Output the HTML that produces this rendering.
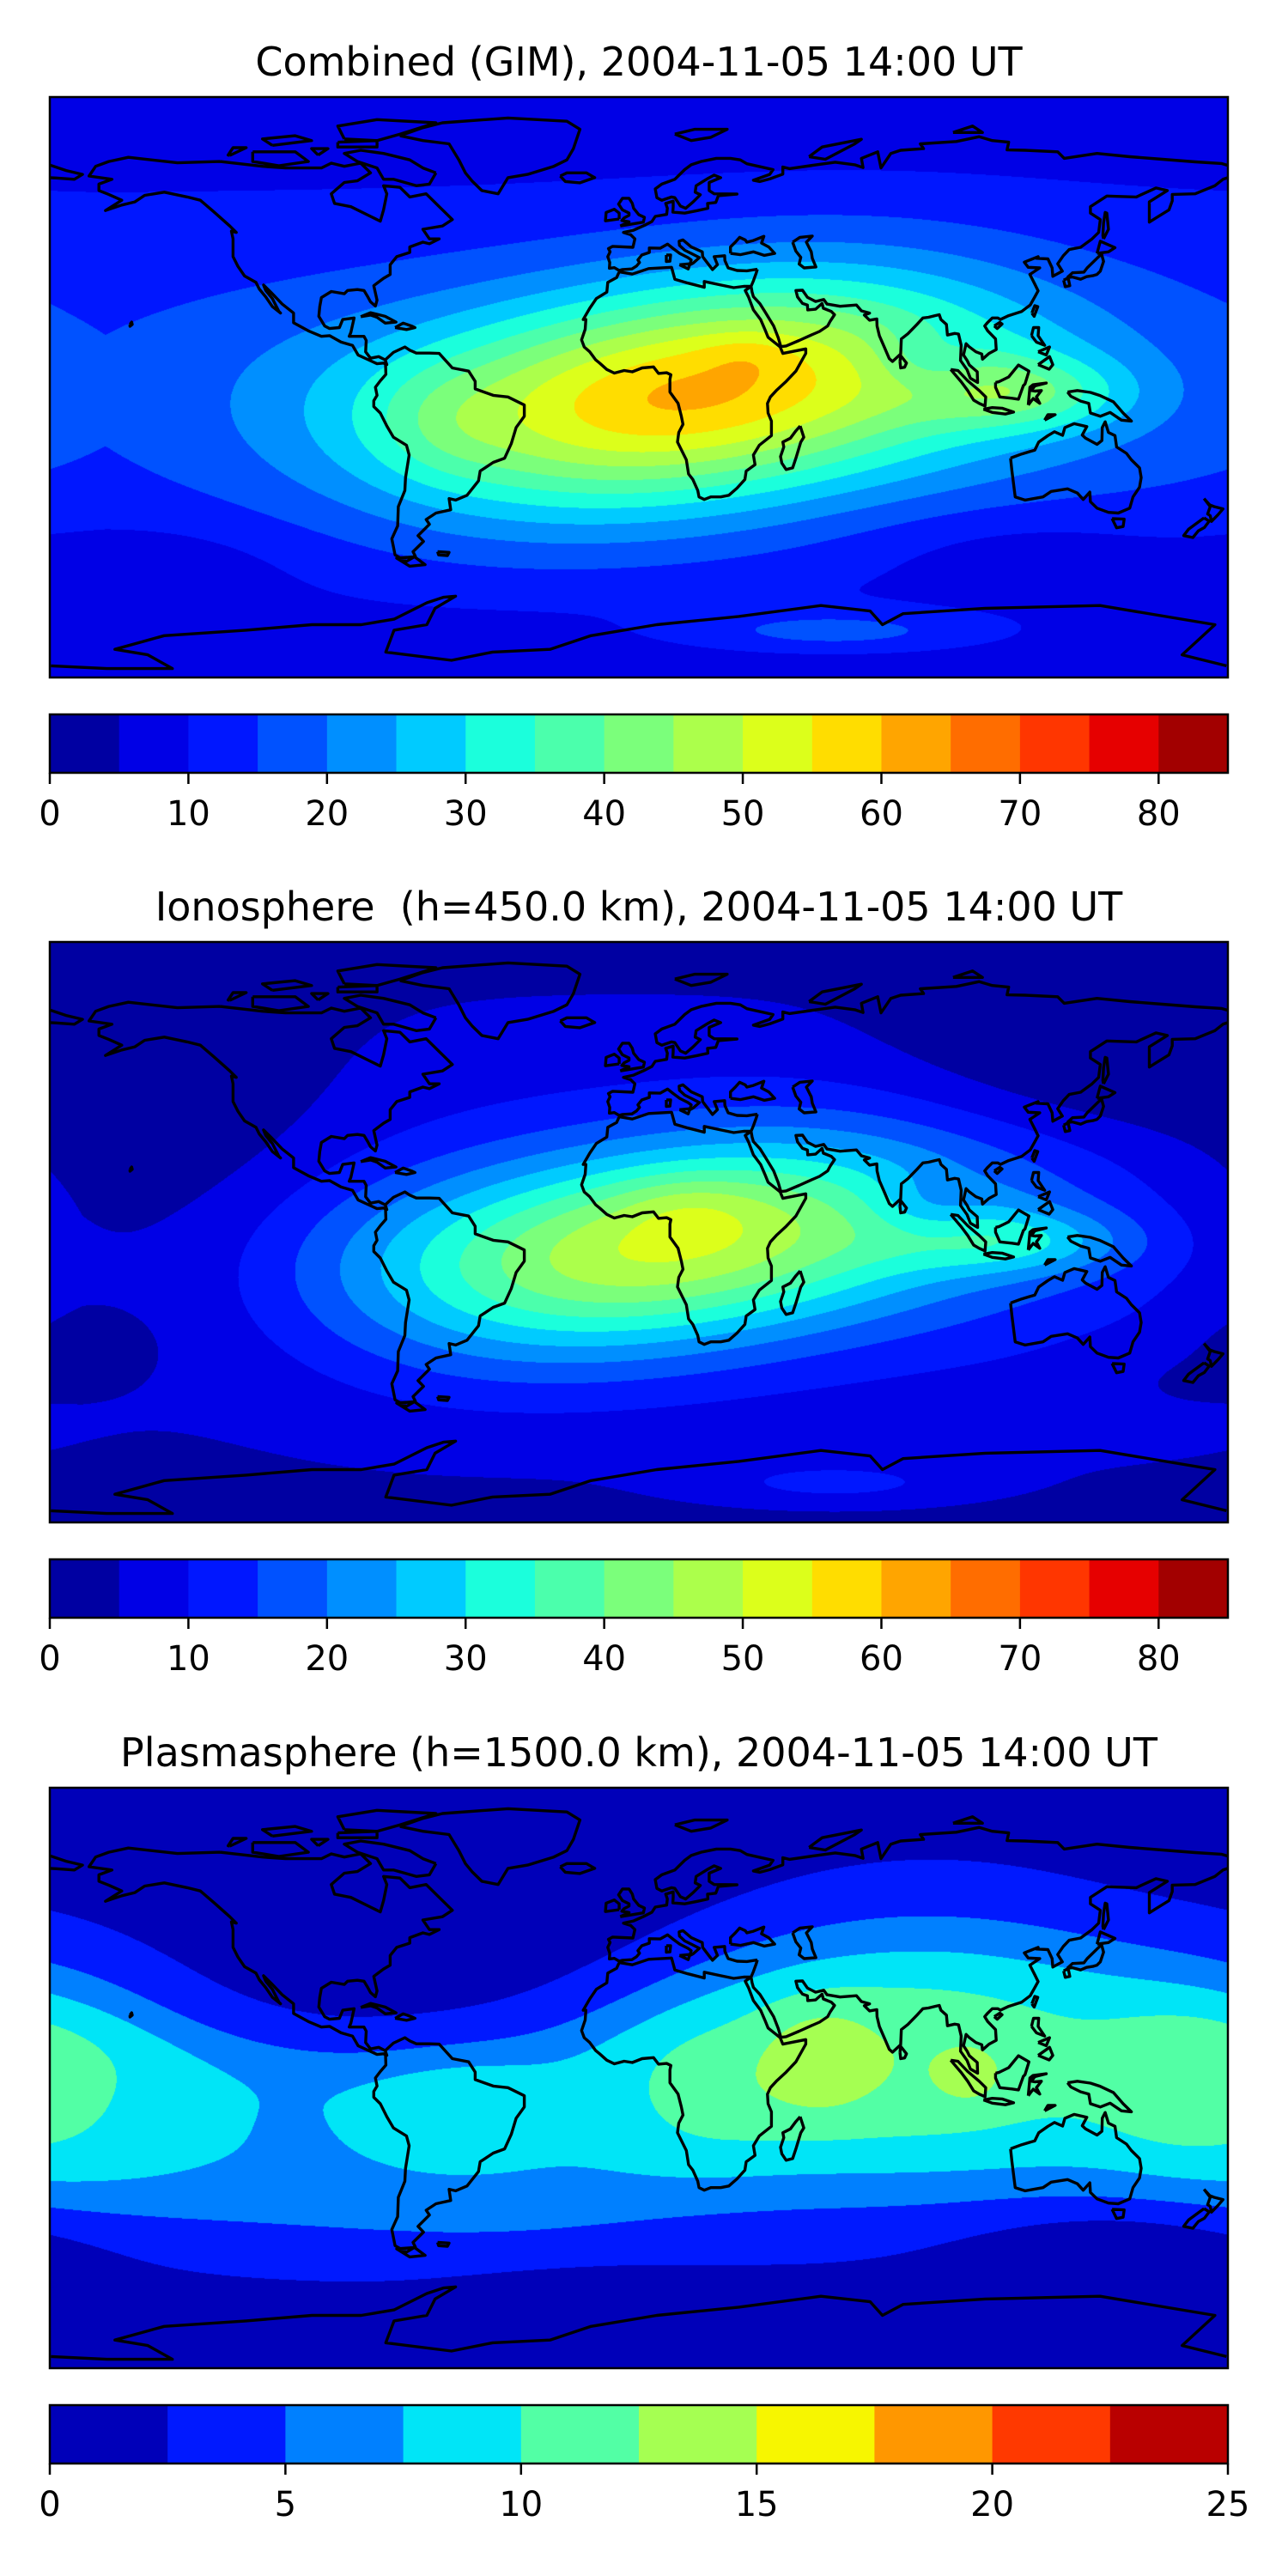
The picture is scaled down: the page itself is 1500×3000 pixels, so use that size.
<!DOCTYPE html>
<html><head><meta charset="utf-8">
<style>
html,body{margin:0;padding:0;background:#fff;}
body{width:1500px;height:3000px;position:relative;overflow:hidden;font-family:"DejaVu Sans","Liberation Sans",sans-serif;}
.title{position:absolute;left:0;width:1488px;text-align:center;font-size:46px;white-space:pre;color:#000;line-height:46px;}
.map{position:absolute;left:58px;width:1372px;height:676px;}
.map canvas,.map svg{position:absolute;left:0;top:0;}
.cbar{position:absolute;left:58px;width:1372px;height:120px;}
</style></head>
<body>
<div class="title" style="top:49px">Combined (GIM), 2004-11-05 14:00 UT</div>
<div class="map" id="m0" style="top:113px"></div>
<div class="cbar" id="c0" style="top:832px"></div>

<div class="title" style="top:1033px">Ionosphere  (h=450.0 km), 2004-11-05 14:00 UT</div>
<div class="map" id="m1" style="top:1097px"></div>
<div class="cbar" id="c1" style="top:1816px"></div>

<div class="title" style="top:2018px">Plasmasphere (h=1500.0 km), 2004-11-05 14:00 UT</div>
<div class="map" id="m2" style="top:2082px"></div>
<div class="cbar" id="c2" style="top:2801px"></div>

<script>
// ---- colorbar data ----
const combinedLevelStep = 5, combinedLevelCount = 17;
const combinedTicks = [0,10,20,30,40,50,60,70,80];
const ionLevelStep = 5, ionLevelCount = 17;
const ionTicks = [0,10,20,30,40,50,60,70,80];
const plasmaLevelStep = 2.5, plasmaLevelCount = 10;
const plasmaTicks = [0,5,10,15,20,25];

// ---- field blobs (lon, lat, amplitude, lon-width, lat-width, tilt) ----
const combinedBlobLon = [17, 33, 118, 88, -150, 115, 60, -60];
const combinedBlobLat = [-2, 10, -2, 8, -55, -50, -76, -12];
const combinedBlobAmp = [47, 3, 14, -6, -4, -4, 9, 4];
const combinedBlobSx  = [70, 10, 22, 12, 30, 35, 35, 15];
const combinedBlobSy  = [24, 5, 8, 7, 10, 10, 5, 12];
const combinedBlobTilt= [0.12, 0, 0, 0, 0, 0, 0, 0];

const ionBlobLon = [10, 15, 115, 88, -140, 140, -170, 160, 60];
const ionBlobLat = [-4, 8, -3, 8, 15, 55, -35, -45, -78];
const ionBlobAmp = [42, 4, 13, -6, -7, -7, -3, -2, 7];
const ionBlobSx  = [68, 15, 25, 12, 40, 45, 15, 20, 30];
const ionBlobSy  = [22, 7, 7, 7, 42, 18, 8, 8, 5];
const ionBlobTilt= [0.12, 0, 0, 0, 0, 0, 0, 0, 0];

const plasmaBlobLon = [-175, -55, 82, 55, 101, 165, 150, -20, 20];
const plasmaBlobLat = [3, -8, 5, 6, 1, -3, -52, -72, -5];
const plasmaBlobAmp = [2.7, 2.2, 4.8, 3, 2.5, 2.0, -2.5, -1.5, 2.3];
const plasmaBlobSx  = [28, 20, 48, 12, 7, 18, 35, 30, 20];
const plasmaBlobSy  = [28, 12, 25, 12, 6, 15, 10, 10, 15];
const plasmaBlobTilt= [0, 0, 0, 0, 0, 0, 0, 0, 0];

const W = 1372, H = 676;
const R = Math.PI/180;

function seg(p,x){for(let i=0;i<p.length-1;i++){if(x<=p[i+1][0]){const t=(x-p[i][0])/(p[i+1][0]-p[i][0]);return p[i][1]+t*(p[i+1][1]-p[i][1]);}}return p[p.length-1][1];}
function jet(x){
  const r=seg([[0,0],[0.35,0],[0.66,1],[0.89,1],[1,0.5]],x);
  const g=seg([[0,0],[0.125,0],[0.375,1],[0.64,1],[0.91,0],[1,0]],x);
  const b=seg([[0,0.5],[0.11,1],[0.34,1],[0.65,0],[1,0]],x);
  return [Math.round(r*255),Math.round(g*255),Math.round(b*255)];
}
function blobSum(lon,lat,L,La,A,Sx,Sy,T){
  let v=0;
  for(let i=0;i<L.length;i++){
    let d=lon-L[i]; d=((d+540)%360)-180;
    const dl=lat-(La[i]+T[i]*Math.sin(d*R)/R);
    v+=A[i]*Math.exp(-0.5*(d/Sx[i])*(d/Sx[i])-0.5*(dl/Sy[i])*(dl/Sy[i]));
  }
  return v;
}
const fields=[
  (lon,lat)=>14-9*(lat/90)*(lat/90)+blobSum(lon,lat,combinedBlobLon,combinedBlobLat,combinedBlobAmp,combinedBlobSx,combinedBlobSy,combinedBlobTilt),
  (lon,lat)=>9-6*(lat/90)*(lat/90)+blobSum(lon,lat,ionBlobLon,ionBlobLat,ionBlobAmp,ionBlobSx,ionBlobSy,ionBlobTilt),
  (lon,lat)=>{const c=-4+9*Math.sin(lon*R)-5*Math.exp(-0.5*Math.pow((lon+30)/40,2));
    const s=lat>c?(35+10*Math.cos((lon-90)*R)):(41+4*Math.cos((lon-90)*R));
    const q=Math.pow((lat-c)/s,4);
    return 1+6.2/(1+q)+blobSum(lon,lat,plasmaBlobLon,plasmaBlobLat,plasmaBlobAmp,plasmaBlobSx,plasmaBlobSy,plasmaBlobTilt);}
];
const steps=[combinedLevelStep,ionLevelStep,plasmaLevelStep];
const counts=[combinedLevelCount,ionLevelCount,plasmaLevelCount];
const ticks=[combinedTicks,ionTicks,plasmaTicks];

// ---- coastlines (lon,lat) ----
const coasts=[
"-128,70 -115,68.5 -108,68 -97,68 -94,69.5 -90,68.5 -85,69.5 -82,66.5 -86,64 -90,63.5 -94,60 -93,57 -88,56 -82,53 -79,51.5 -78,55 -77,60 -78,62.5 -73,62 -70,59 -65,60 -61,56 -57,52 -60,50 -66,49 -64,46 -61,46 -64,44.5 -66,45 -70,43.5 -70,41.8 -74,40.5 -76,38 -76,35 -78,33.8 -81,31.5 -80,27 -80.5,25.2 -82,26.5 -82.8,28 -84,30 -86,30.3 -89,30 -90,29 -94,29.7 -97,27.8 -97.5,25 -97.8,22 -96,19 -94.5,18.2 -91.5,18.5 -90.5,21 -87,21.5 -88,17 -88.5,15.8 -84,15.8 -83.3,14.5 -83.5,11 -82,9 -79.5,9.5 -77.5,8.5 -77,7 -78,7.5 -80,7.3 -81.5,8 -85.8,10 -87.5,13 -91,14 -94.5,16 -97,15.8 -101,17.5 -105.5,20 -105.5,23 -109,25.8 -112.5,29.5 -114.7,31.7 -114,30 -112,27.5 -110,23.5 -109.5,23 -112,25 -114,28 -116,30.5 -117,32.5 -120.5,34.5 -122.5,37.5 -124,40.5 -124,46 -124.5,48.4 -123,48 -125,50 -130,54.5 -134,58 -138,59 -145,60.5 -151,59.5 -154,57.5 -158,56.5 -163,54.8 -158,58 -162,59.8 -165,61 -165,63 -161,64.5 -168,65.5 -166,68.5 -162,70 -156,71.3 -141,69.6 -128,70",
"-62,66.5 -64,63 -68,62.5 -75,64.5 -78,64.5 -80,68 -86,70 -90,72.5 -85,73.5 -78,72.5 -70,70.5 -66,68 -62,66.5",
"-118,73 -105,73 -101,70 -110,68.7 -118,70 -118,73",
"-90,77 -80,76.5 -73,78.5 -62,82 -80,83 -92,81 -90,77",
"-125,71.9 -120,74.3 -124,74.3 -125.5,72 -125,71.9",
"-92,76 -80,76.5 -80,74.5 -92,74.5 -92,76",
"-112,75 -100,76.5 -105,78 -115,77 -112,75",
"-98,72 -95,74 -100,74 -98,72",
"-73,78 -66,80.5 -60,82 -40,83.5 -22,82.5 -18,80 -19,77 -20,74 -22,70.5 -26,68.5 -34,66 -40,65 -43,60 -48,61 -51,64 -53,66.5 -55,70.5 -58,75.5 -66,76.5 -73,78",
"-24,65.5 -22,66.5 -16,66.5 -13.5,65 -18,63.4 -22.5,63.8 -24,65.5",
"-85,21.9 -82,23.1 -77.5,22 -74.2,20.2 -77.5,19.9 -80,21.7 -82,22.4 -85,21.9",
"-74.5,18.5 -72,19.9 -69.5,19 -68.4,18.5 -71,17.9 -74.5,18.5",
"-77,7 -77.5,8.5 -75,10.8 -71.5,12.5 -70,11.5 -68,10.6 -64,10.6 -61,10.5 -57,6 -52,5 -50,1.8 -50,-0.5 -44.5,-2.5 -40,-3 -35,-5.5 -35,-9 -37.5,-12.5 -39,-17.5 -41,-22 -44.5,-23.3 -48.5,-26 -49,-29 -52.5,-33.5 -56,-35 -58,-34.5 -57.5,-38 -62,-39 -65,-41 -64,-42.5 -67.5,-46 -65.8,-47.8 -69,-51 -68.3,-52.4 -71,-54 -74.5,-52 -75.5,-47 -73.7,-43 -73.5,-37 -71.5,-32 -71.3,-28 -70.2,-21 -71,-18 -75,-15.5 -77,-12 -79,-8 -81,-6 -81,-4.2 -80,-2.5 -80.5,0 -79,2 -77.3,4 -77.4,7 -77,7",
"-68.5,-52.6 -65.3,-55 -70,-55.5 -74,-53 -68.5,-52.6",
"-61.5,-51 -58,-51.2 -58.5,-52.2 -61.2,-52 -61.5,-51",
"-6,35.8 -2,35.1 3,36.8 10,37.2 11,33.5 15,32.3 20,31 20,32.8 25,31.7 29,30.9 32,31.3 34.3,31.3 32.5,30 33.5,28 35,24 37.2,21 38.5,18 39.5,15.5 43.2,12.5 44,10.5 51,11.9 51,10.5 48,5 45,1.8 42,-1 40.2,-3 39.3,-5 39.5,-8 40.5,-10.5 40.5,-15 36.8,-18 35,-21 35.5,-24 32.8,-26 32.4,-28.6 30,-31.3 27.5,-33.5 25,-34 22,-34 20,-34.8 18.4,-34 18,-32 16.5,-28.6 15.2,-26.9 14.5,-22.5 11.8,-17 12.2,-14 13.5,-11.5 13,-9 12,-5 9.5,-1.5 9.5,2.5 9.8,3.9 8.5,4.5 6,4.3 4.5,6.3 1,6 -2,4.8 -4.5,5.2 -7.5,4.4 -9.8,5.5 -12,7.5 -13.2,8.5 -15,11 -16.7,12.5 -17.5,14.7 -16.4,18 -16.2,21 -17,21 -15,24.5 -13,27.5 -9.8,29.5 -9.5,32.5 -6.8,34 -6,35.8",
"49.3,-12 50.4,-15.5 49.5,-17 48,-22 47,-25 45,-25.5 43.7,-23.5 43.3,-21.5 44.3,-18.5 44,-17 46.3,-15.8 48,-13.5 49.3,-12",
"36.2,36.6 33,36.1 30,36.2 27.3,37 26.3,39.3 26.2,40.8 23,40.5 24,38 22.5,36.5 21,38.5 19.5,40.5 19.4,42 16,43.5 13.5,45.7 12.3,45.3 12.4,44 14,42.5 16,41.5 18.5,40.2 16.6,38.5 15.6,38 16,39.5 15,40.2 12.5,41.5 10.5,43 8.8,44.4 6.5,43.1 3.2,43.2 3.2,41.8 0.9,41 -0.3,39.5 0.2,38.7 -0.7,37.6 -2.1,36.7 -5,36.5 -6,36.2 -7.5,37.1 -9,36.9 -8.9,38.7 -9.5,40.5 -8.8,42 -9.3,43 -8,43.7 -1.8,43.4 -1.2,46 -2.5,47.3 -4.7,48 -1.6,48.7 1.5,50.1 4,51.4 5,53 8.5,53.6 8.7,55.5 8.2,57 10.5,57.7 10.5,56 10.4,54.3 14,54 18,54.8 21.1,55.5 21,57 23.5,57.3 24.3,59.4 30,59.9 23,60 21.5,61 21.5,63.5 25,65 23,65.8 21.2,64.8 17.5,62.5 17.2,60.5 18.8,59.7 16.6,57.5 14.3,55.5 12.7,56.2 11,58.8 10,59 7,58 5.5,58.8 5,61.5 7,63 11,64.5 14,67.5 16,69 19,70 23.7,71 28,71 31,70.5 33,69.3 41,67.5 40,66 35,64.2 37,63.8 40,64.6 44,66.1 44,68.3 46,67.8 53,68.8 60,69.8 66,69 68.5,68.1 68,71 73,73 74,68 77,72.5 80,73.5 87,74 86,75.5 97,76.2 104,77.7 108,76.5 113,76 112.5,73.6 118,73.5 128,73 130,71 140,72.5 150,71.5 160,70.7 170,69.9 178,69.4 180,68.8",
"180,65 178.5,64.5 176,62.5 170,60 163,59.8 163,57.8 162,55 158,52.5 156,51.2 156,57.5 161.5,61 158,61.8 152,59 143,59.3 138,56 138,54 141,52 140.5,48 138.5,46 135,43.4 131.5,42.7 129.7,40.8 128,38.3 129.4,36 126.5,34.4 126.3,37 125,39.8 121.5,40 122,40.5 117.8,38.8 119,37.2 122.5,37 119.5,35 121,32 122,29.9 121,28 119.6,25.5 117,23.5 113,22.2 110.5,21 109.7,21.5 108,21.5 106.5,20 105.7,19 106.6,17.5 109,15 109.2,11.7 107,10.5 105,8.7 104.8,10.3 103,11 100.9,12.6 100,13.5 99.2,10 100.3,8.3 101,6.9 103.4,4.8 103.5,1.5 101.3,2.8 100.3,5.4 98.3,8.3 98.5,13 97.7,16.5 96.5,16.7 94.3,16.2 94,19.5 92.3,21 91.8,22.5 90.5,22.2 88.5,21.7 86.8,21.5 85,19.5 82.2,16.6 80.2,15 80,10.3 77.5,8 76.5,8.9 75,12.5 73.5,16 72.8,19 72.7,21.2 70.5,20.8 68.9,22.4 70.5,23 68,23.7 66.5,25.5 61.5,25.1 57.5,25.8 56.5,27.2 54,26.6 51.5,27.9 50,30.1 48,30 48.5,28 50,26 51.5,25.5 51.6,24 54,24.2 56,26 56.4,24.5 58.8,23.5 59.8,22.5 58.5,20.5 57.7,19 55.2,17.3 52,15.9 49,14.5 45,12.8 43.4,12.6 42.6,15.3 41.2,19 38.5,23.5 37,25.9 35,28.1 34.6,29.5 34.3,31.3 35,33 35.9,35.5 36.2,36.6",
"-180,68.9 -175,67.2 -170,66 -172.5,64.5 -178,64.9 -180,65",
"28,41.5 31,41.1 35,42 38.3,40.9 41.5,41.5 39.7,43.5 37.5,44.7 38.2,46.8 35,45.5 33,45 32.5,45.7 30.8,46.5 29.5,45 28,43.5 28,41.5",
"47,45 49.2,46.5 53,46.9 51.2,45 52.7,42 53,40 54.1,37.3 50.5,37 49,38.2 49.5,40.3 48,42.2 47,45",
"12.4,38 15.6,38.3 15.1,36.7 12.4,38",
"8.4,41 9.7,41 9.5,39.1 8.4,39 8.4,41",
"-5.7,50 1.4,51.2 1.7,52.7 0,53.5 -1.6,55.5 -2,57 -3,58.6 -5,58.6 -6.2,56.8 -5,55 -3,54 -3,53.3 -4.5,52.5 -5.2,51.7 -3,51.3 -5.7,50",
"-6,52.2 -6,54 -7.5,55.2 -10,54.2 -10.2,51.6 -6,52.2",
"52,71.5 56,74.5 68,76.9 66,75.5 57,70.7 52,71.5",
"11,78.5 17,80 27,80 22,77.5 16,76.5 11,78.5",
"96,79 105,79 102,81 96,79",
"79.8,8 80,9.8 81.8,7.5 81.2,6.2 80,6 79.8,8",
"130.9,34 132.5,35.5 136,35.7 137,37 140,40 141.4,41.3 142,39 141,36 140,35 138.7,34.6 136.8,34.3 135,33.5 132.5,34.2 130.9,34",
"140,41.5 141,45.3 145.5,43.3 143.5,42 140,41.5",
"129.8,33.2 131.2,33.9 131.7,31.5 130.3,31.2 129.8,33.2",
"142,46 143.5,49 143,54 142.5,54.2 142,51 141.8,47 142,46",
"120.1,23 121,25.3 121.9,25 120.8,22 120.1,23",
"108.6,19 110.3,20.1 111,19.6 109.5,18.2 108.6,19",
"120,16 120.6,18.5 122.2,18.5 122,16 124,13 121.5,14 120,16",
"122,7 125.5,9.5 126.5,7 125.4,5.6 122,7",
"122,11 125.5,12.5 124.5,10 122,11",
"109,1.5 110,1.7 113,3.2 116,6.9 119.2,5 118,1 117.5,0.5 116,-3.7 114,-3.4 110.3,-3 109,0 109,1.5",
"95.3,5.5 97.5,5.2 100.5,2 104,-1 106,-3 105.8,-5.8 104,-5 102.3,-4 100.5,-1 98.5,1.7 95.3,5.5",
"105.3,-6.8 108,-6.3 111,-6.5 114.5,-7.7 112,-8.3 108,-7.8 105.3,-6.8",
"119,-5.5 119.5,0 120.5,0.8 124.5,1.3 121,0.4 120,-1 121,-1.2 123,-1 121.5,-3 122.5,-5 120.5,-3.5 119,-5.5",
"131,-1.5 134,-1 138,-1.6 141,-2.6 145,-4.5 148,-8 150.5,-10.5 147.5,-10.2 144,-7.8 141,-9 138,-8 137.5,-5 135,-4.3 132,-2.8 131,-1.5",
"124,-10.2 127.2,-8.5 125,-8.5 124,-10.2",
"113.6,-22 114,-26 115,-34 118,-35 123.5,-34 126,-32.3 131,-31.5 134,-32.8 135.8,-34.8 137.8,-32.5 138,-35.5 140,-37.5 143.5,-38.8 146.5,-39 150,-37.5 151,-34 153,-31 153.5,-28 153,-25 150.5,-22.5 149,-20.5 146,-18.5 145.5,-15 143.5,-14 142.5,-10.7 141.6,-12.5 141.5,-16.5 140,-17.7 136.5,-15.8 135.5,-14.8 136.9,-12.2 133,-11.3 130.2,-12.5 129.5,-14.9 127,-13.8 125,-15 122.2,-17 121,-19.5 117,-20.7 114,-21.8 113.6,-22",
"144.6,-40.7 148.3,-40.9 148,-43.2 146,-43.6 144.6,-40.7",
"172.7,-34.5 174.5,-36.5 175.8,-37 178.5,-37.7 177,-39.5 175,-41.6 174.6,-39.8 173.8,-39.3 174.6,-37 172.7,-34.5",
"172.7,-40.5 174.3,-41.5 172.8,-43.5 171,-44.5 169.3,-46.6 166.5,-46 168,-44 172.7,-40.5",
"-155.5,19.5 -155,20.2 -154.8,19.5 -155.5,18.9 -155.5,19.5"
];
// Antarctica traced in image pixel space (zoomed reference coordinates)
const antarcticaTrace="62,1215 130,1220 210,1220 180,1195 140,1185 200,1160 300,1150 380,1140 440,1140 480,1130 520,1100 540,1090 555,1088 530,1110 520,1140 480,1150 470,1190 550,1205 600,1190 670,1185 720,1160 800,1140 900,1125 1000,1105 1060,1115 1075,1140 1100,1120 1200,1110 1340,1105 1480,1140 1440,1195 1494,1215";

function proj(lon,lat){return [(lon+180)/360*W,(90-lat)/180*H];}
function coastPath(){
  let d="";
  coasts.forEach(s=>{
    const pts=s.split(" ").map(p=>p.split(",").map(Number));
    pts.forEach((p,i)=>{const q=proj(p[0],p[1]);d+=(i?"L":"M")+q[0].toFixed(1)+","+q[1].toFixed(1);});
  });
  antarcticaTrace.split(" ").forEach((p,i)=>{const a=p.split(",").map(Number);
    const x=a[0]/1.046-58, y=a[1]/1.567-113; d+=(i?"L":"M")+x.toFixed(1)+","+y.toFixed(1);});
  return d;
}
const NS="http://www.w3.org/2000/svg";
const cpath=coastPath();

for(let m=0;m<3;m++){
  const host=document.getElementById("m"+m);
  const cv=document.createElement("canvas");
  
  
  cv.width=W;cv.height=H;host.appendChild(cv);
  const ctx=cv.getContext("2d");
  const img=ctx.createImageData(W,H);
  const n=counts[m], st=steps[m];
  const pal=[];for(let i=0;i<n;i++)pal.push(jet((i+0.5)/n));
  const f=fields[m];
  for(let py=0;py<H;py++){
    const lat=90-(py+0.5)/H*180;
    for(let px=0;px<W;px++){
      const lon=-180+(px+0.5)/W*360;
      let k=Math.floor(f(lon,lat)/st); if(k<0)k=0; if(k>n-1)k=n-1;
      const c=pal[k],o=(py*W+px)*4;
      img.data[o]=c[0];img.data[o+1]=c[1];img.data[o+2]=c[2];img.data[o+3]=255;
    }
  }
  ctx.putImageData(img,0,0);
  const svg=document.createElementNS(NS,"svg");
  
  
  svg.setAttribute("width",W);svg.setAttribute("height",H);
  svg.style.overflow="visible";
  const path=document.createElementNS(NS,"path");
  
  
  path.setAttribute("d",cpath);path.setAttribute("fill","none");path.setAttribute("stroke","#000");
  path.setAttribute("stroke-width","3.4");path.setAttribute("stroke-linejoin","round");
  svg.appendChild(path);
  const fr=document.createElementNS(NS,"rect");
  
  
  fr.setAttribute("x",0);fr.setAttribute("y",0);fr.setAttribute("width",W);fr.setAttribute("height",H);
  fr.setAttribute("fill","none");fr.setAttribute("stroke","#000");fr.setAttribute("stroke-width","2.5");
  svg.appendChild(fr);
  host.appendChild(svg);

  // colorbar
  const cb=document.getElementById("c"+m);
  const cs=document.createElementNS(NS,"svg");
  
  
  cs.setAttribute("width",W+60);cs.setAttribute("height",120);
  cs.style.overflow="visible";
  const maxV=n*st, bw=W/n;
  for(let i=0;i<n;i++){
    const r=document.createElementNS(NS,"rect");
    
    
    const c=pal[i];
    r.setAttribute("x",(i*st/maxV*W).toFixed(2));r.setAttribute("y",0);
    r.setAttribute("width",(bw+0.6).toFixed(2));r.setAttribute("height",68);
    r.setAttribute("fill","rgb("+c.join(",")+")");
    cs.appendChild(r);
  }
  const bf=document.createElementNS(NS,"rect");
  
  
  bf.setAttribute("x",0);bf.setAttribute("y",0);bf.setAttribute("width",W);bf.setAttribute("height",68);
  bf.setAttribute("fill","none");bf.setAttribute("stroke","#000");bf.setAttribute("stroke-width","2.5");
  cs.appendChild(bf);
  ticks[m].forEach(t=>{
    const x=t/maxV*W;
    const tl=document.createElementNS(NS,"line");
    
    
    tl.setAttribute("x1",x);tl.setAttribute("x2",x);tl.setAttribute("y1",68);tl.setAttribute("y2",81);
    tl.setAttribute("stroke","#000");tl.setAttribute("stroke-width","2.5");
    cs.appendChild(tl);
    const tx=document.createElementNS(NS,"text");
    
    
    tx.setAttribute("x",x);tx.setAttribute("y",129);tx.setAttribute("text-anchor","middle");
    tx.setAttribute("font-size","40");tx.setAttribute("font-family","DejaVu Sans, Liberation Sans, sans-serif");
    tx.textContent=String(t);
    cs.appendChild(tx);
  });
  cb.appendChild(cs);
}
</script>
</body></html>
